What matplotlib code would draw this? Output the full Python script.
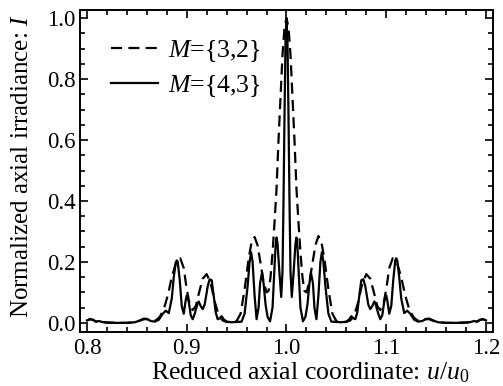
import matplotlib
matplotlib.use('Agg')
import matplotlib.pyplot as plt
from matplotlib.ticker import MultipleLocator

# M={3,2}  (dashed)
x_32 = [0.800, 0.803, 0.806, 0.809, 0.812, 0.815, 0.820, 0.830, 0.840, 0.848,
        0.853, 0.857, 0.861, 0.865, 0.869, 0.873, 0.877, 0.881, 0.885, 0.889,
        0.8935, 0.897, 0.900, 0.903, 0.906, 0.909, 0.912, 0.916, 0.920, 0.924,
        0.928, 0.932, 0.936, 0.940, 0.946, 0.950, 0.954, 0.958, 0.962, 0.965,
        0.968, 0.971, 0.974, 0.977, 0.980, 0.982, 0.984, 0.986, 0.988, 0.990,
        0.992, 0.994, 0.996, 0.998, 1.000,
        1.002, 1.004, 1.006, 1.008, 1.010, 1.012, 1.014, 1.016, 1.018, 1.020,
        1.023, 1.026, 1.029, 1.032, 1.035, 1.038, 1.042, 1.046, 1.050, 1.054,
        1.060, 1.064, 1.068, 1.072, 1.076, 1.080, 1.084, 1.088, 1.091, 1.094,
        1.097, 1.100, 1.103, 1.1065, 1.111, 1.115, 1.119, 1.123, 1.127, 1.131,
        1.135, 1.139, 1.143, 1.147, 1.152, 1.160, 1.170, 1.180, 1.185, 1.188,
        1.191, 1.194, 1.197, 1.200]
y_32 = [0.008, 0.012, 0.010, 0.004, 0.006, 0.003, 0.001, 0.000, 0.000, 0.002,
        0.007, 0.012, 0.012, 0.007, 0.008, 0.020, 0.045, 0.090, 0.150, 0.195,
        0.212, 0.180, 0.110, 0.060, 0.042, 0.055, 0.095, 0.145, 0.160, 0.130,
        0.070, 0.025, 0.008, 0.003, 0.002, 0.006, 0.030, 0.110, 0.210, 0.265,
        0.282, 0.255, 0.195, 0.135, 0.100, 0.105, 0.150, 0.230, 0.330, 0.440,
        0.600, 0.740, 0.880, 0.970, 1.000,
        0.970, 0.880, 0.740, 0.600, 0.440, 0.330, 0.230, 0.150, 0.105, 0.100,
        0.135, 0.195, 0.255, 0.285, 0.265, 0.210, 0.110, 0.030, 0.006, 0.002,
        0.003, 0.008, 0.025, 0.070, 0.130, 0.160, 0.145, 0.095, 0.055, 0.042,
        0.060, 0.110, 0.180, 0.212, 0.195, 0.150, 0.090, 0.045, 0.020, 0.008,
        0.007, 0.012, 0.012, 0.007, 0.002, 0.000, 0.000, 0.001, 0.003, 0.006,
        0.004, 0.010, 0.012, 0.008]

# M={4,3}  (solid)
x_43 = [0.800, 0.803, 0.806, 0.809, 0.812, 0.815, 0.820, 0.830, 0.840, 0.848,
        0.853, 0.857, 0.860, 0.864, 0.868, 0.872, 0.876, 0.879, 0.882, 0.885,
        0.887, 0.889, 0.890, 0.891, 0.893, 0.895, 0.897, 0.899, 0.900, 0.902,
        0.904, 0.906, 0.908, 0.911, 0.912, 0.914, 0.916, 0.918, 0.921, 0.923,
        0.925, 0.927, 0.929, 0.931, 0.933, 0.935, 0.937, 0.940, 0.945, 0.950,
        0.955, 0.958, 0.961, 0.963, 0.9645, 0.966, 0.968, 0.970, 0.972, 0.9735,
        0.9755, 0.977, 0.979, 0.981, 0.9835, 0.986, 0.988, 0.989, 0.990, 0.991,
        0.993, 0.9947, 0.996, 0.997, 0.998, 0.999, 1.000,
        1.001, 1.002, 1.003, 1.004, 1.0053, 1.007, 1.009, 1.010, 1.011, 1.012,
        1.014, 1.0165, 1.019, 1.021, 1.023, 1.0245, 1.0265, 1.028, 1.030, 1.032,
        1.034, 1.0355, 1.037, 1.039, 1.042, 1.045, 1.050, 1.055, 1.060, 1.063,
        1.065, 1.067, 1.069, 1.071, 1.073, 1.075, 1.077, 1.079, 1.082, 1.084,
        1.086, 1.088, 1.089, 1.092, 1.094, 1.096, 1.098, 1.100, 1.101, 1.103,
        1.105, 1.107, 1.109, 1.110, 1.111, 1.113, 1.115, 1.118, 1.121, 1.124,
        1.128, 1.132, 1.136, 1.140, 1.143, 1.147, 1.152, 1.160, 1.170, 1.180,
        1.185, 1.188, 1.191, 1.194, 1.197, 1.200]
y_43 = [0.008, 0.012, 0.010, 0.004, 0.006, 0.003, 0.001, 0.000, 0.000, 0.002,
        0.008, 0.014, 0.013, 0.006, 0.004, 0.010, 0.030, 0.040, 0.032, 0.080,
        0.150, 0.198, 0.205, 0.200, 0.140, 0.055, 0.030, 0.075, 0.090, 0.070,
        0.025, 0.012, 0.030, 0.065, 0.070, 0.055, 0.045, 0.060, 0.120, 0.143,
        0.140, 0.090, 0.035, 0.012, 0.015, 0.022, 0.012, 0.004, 0.002, 0.003,
        0.004, 0.030, 0.120, 0.200, 0.232, 0.200, 0.090, 0.012, 0.050, 0.130,
        0.165, 0.130, 0.060, 0.020, 0.005, 0.050, 0.180, 0.250, 0.280, 0.260,
        0.160, 0.085, 0.170, 0.400, 0.680, 0.920, 1.000,
        0.920, 0.680, 0.400, 0.170, 0.085, 0.160, 0.260, 0.280, 0.250, 0.180,
        0.050, 0.005, 0.020, 0.060, 0.130, 0.165, 0.130, 0.050, 0.012, 0.090,
        0.200, 0.232, 0.200, 0.120, 0.030, 0.004, 0.003, 0.002, 0.004, 0.012,
        0.022, 0.015, 0.012, 0.035, 0.090, 0.140, 0.143, 0.120, 0.060, 0.045,
        0.055, 0.070, 0.065, 0.030, 0.012, 0.025, 0.070, 0.090, 0.075, 0.030,
        0.055, 0.140, 0.205, 0.212, 0.205, 0.150, 0.080, 0.032, 0.040, 0.030,
        0.010, 0.004, 0.006, 0.013, 0.014, 0.008, 0.002, 0.000, 0.000, 0.001,
        0.003, 0.006, 0.004, 0.010, 0.012, 0.008]

x_ticks = [0.8, 0.9, 1.0, 1.1, 1.2]
y_ticks = [0.0, 0.2, 0.4, 0.6, 0.8, 1.0]

plt.rcParams['font.family'] = ['Liberation Serif', 'DejaVu Serif']
plt.rcParams['mathtext.fontset'] = 'custom'
plt.rcParams['mathtext.rm'] = 'Liberation Serif'
plt.rcParams['mathtext.it'] = 'Liberation Serif:italic'

fig = plt.figure(figsize=(5.03, 3.86), dpi=100)
ax = fig.add_axes([80/503, 54/386, 413/503, 322/386])

ax.plot(x_32, y_32, color='black', lw=1.6, dashes=(5, 2.8), label=r'$M$={3,2}')
ax.plot(x_43, y_43, color='black', lw=1.6, label=r'$M$={4,3}')

ax.set_xlim(0.793, 1.207)
ax.set_ylim(-0.03, 1.027)
ax.set_xticks(x_ticks)
ax.set_xticklabels(['%.1f' % v for v in x_ticks])
ax.set_yticks(y_ticks)
ax.set_yticklabels(['%.1f' % v for v in y_ticks])
ax.xaxis.set_minor_locator(MultipleLocator(0.02))
ax.yaxis.set_minor_locator(MultipleLocator(0.05))
ax.tick_params(which='both', direction='in', top=True, right=True, width=1.2, labelsize=16.5)
ax.tick_params(which='major', length=6)
ax.tick_params(which='minor', length=3.5)
ax.tick_params(axis='x', pad=4)
ax.tick_params(axis='y', pad=3)
for sp in ax.spines.values():
    sp.set_linewidth(1.4)

ax.set_xlabel(r'Reduced axial coordinate: $u$/$u_0$', fontsize=18.5)
ax.set_ylabel(r'Normalized axial irradiance: $I$', fontsize=18)
# label placement as in the original (x label sits right of centre)
ax.xaxis.set_label_coords(0.558, -0.087)
ax.yaxis.set_label_coords(-0.113, 0.515)

ax.legend(loc='upper left', bbox_to_anchor=(0.018, 0.985), frameon=False,
          fontsize=18.5, handlelength=1.85, labelspacing=0.35, handletextpad=0.4)

fig.savefig('out.png', dpi=100)
